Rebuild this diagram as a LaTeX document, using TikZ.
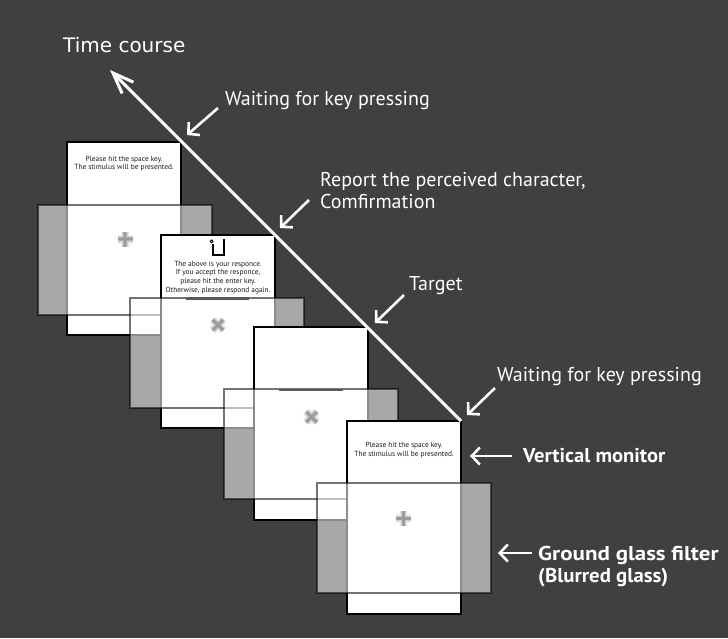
\documentclass[tikz,border=0pt]{standalone}
\usepackage{fontspec}
\setmainfont{PT Sans}
\newfontfamily\djv{DejaVu Sans}
\usetikzlibrary{arrows.meta}
\definecolor{bg}{HTML}{404040}
\definecolor{barc}{HTML}{5A5A5A}
\begin{document}
\begin{tikzpicture}[x=1pt,y=-1pt,
  monitor/.style={draw=black, line width=1.6pt, fill=white, minimum width=114pt, minimum height=193pt, inner sep=0pt, outer sep=0pt, anchor=north west},
  filter/.style={draw=black, draw opacity=0.55, line width=1.6pt, fill=white, fill opacity=0.55, minimum width=174pt, minimum height=110pt, inner sep=0pt, outer sep=0pt, anchor=north west},
  scrtext/.style={font=\fontsize{7.4}{9}\selectfont, align=center, inner sep=0pt, anchor=base, text=black!90},
  lbl/.style={font=\fontsize{20}{22.5}\selectfont, text=white, inner sep=0pt, anchor=base west},
  blbl/.style={font=\fontsize{20}{22.5}\selectfont\bfseries, text=white, inner sep=0pt, anchor=base west, align=left},
  warrow/.style={draw=white, line width=2.6pt, -{Straight Barb[length=8pt,width=17pt]}},
  darkbar/.style={draw=barc, line width=2.2pt},
  pics/blurcross/.style={code={
    \foreach \w/\o in {9/0.08,7/0.14,5.2/0.22,3.6/0.35,2.2/0.45}{
      \draw[line width=\w pt, draw=gray, draw opacity=\o] (-7.5,0)--(7.5,0) (0,-7.5)--(0,7.5);}
  }}
]
\useasboundingbox (0,0) rectangle (728,638);
\fill[bg] (0,0) rectangle (728,638);

% unit 1
\node[monitor] (m1) at (67,142) {};
\node[scrtext] (t1a) at (124,161) {Please hit the space key.};
\node[scrtext] (t1b) at (124,169.5) {The stimulus will be presented.};
\node[filter] (f1) at (38,205) {};
\pic at (125,239) {blurcross};

% unit 2
\node[monitor] (m2) at (161,235) {};
\draw[line width=1.1pt, black] (213,243.5) -- (213,255) -- (224,255) -- (224,238.5);
\draw[line width=0.8pt, black] (211.6,241.4) circle (1.5);
\node[scrtext] (t2a) at (218,266) {The above is your responce.};
\node[scrtext] (t2b) at (218,274.8) {If you accept the responce,};
\node[scrtext] (t2c) at (218,283.6) {please hit the enter key.};
\node[scrtext] (t2d) at (218,292.4) {Otherwise, please respond again.};
\node[filter] (f2) at (130,298) {};
\draw[darkbar] (186,298.5) -- (249,298.5);
\pic[rotate=45] at (218,325) {blurcross};

% unit 3
\node[monitor] (m3) at (254,327) {};
\node[filter] (f3) at (224,389) {};
\draw[darkbar] (279,390) -- (343,390);
\pic[rotate=45] at (311.5,417) {blurcross};

% unit 4
\node[monitor] (m4) at (347,421) {};
\node[scrtext] (t4a) at (404,447.5) {Please hit the space key.};
\node[scrtext] (t4b) at (404,456) {The stimulus will be presented.};
\node[filter] (f4) at (317,483) {};
\pic at (403.5,518.5) {blurcross};

% time course
\coordinate (tc) at (110,70);
\draw[white, line width=3pt, -{Straight Barb[length=21pt,width=16pt]}] (m4.north east) -- (tc);
\node[font=\djv\fontsize{20}{24}\selectfont, text=white, inner sep=0pt, anchor=base west] (tct) at (63,52) {Time course};

% labels
\node[lbl] (l1) at (225,105) {Waiting for key pressing};
\node[lbl, align=left, anchor=north west] (l2) at (320,172) {Report the perceived character,\\Comfirmation};
\node[lbl] (l3) at (409,290.5) {Target};
\node[lbl] (l4) at (497,381) {Waiting for key pressing};
\node[blbl] (l5) at (523,462) {\scalebox{1.03}[1]{Vertical monitor}};
\node[blbl] (l6) at (538,560) {\scalebox{1.15}[1]{Ground glass filter}};
\node[blbl] (l7) at (538,582) {\scalebox{1.04}[1]{(Blurred glass)}};

\coordinate (a1s) at (218,108); \coordinate (a1e) at (187,135);
\coordinate (a2s) at (309,200); \coordinate (a2e) at (280,228);
\coordinate (a3s) at (404,295); \coordinate (a3e) at (375,323);
\coordinate (a4s) at (495,388); \coordinate (a4e) at (467,415);
\coordinate (a5s) at (512,456); \coordinate (a5e) at (470,456);
\coordinate (a6s) at (532,553); \coordinate (a6e) at (498,553);
\draw[warrow] (a1s) -- (a1e);
\draw[warrow] (a2s) -- (a2e);
\draw[warrow] (a3s) -- (a3e);
\draw[warrow] (a4s) -- (a4e);
\draw[warrow] (a5s) -- (a5e);
\draw[warrow] (a6s) -- (a6e);
\end{tikzpicture}
\end{document}
